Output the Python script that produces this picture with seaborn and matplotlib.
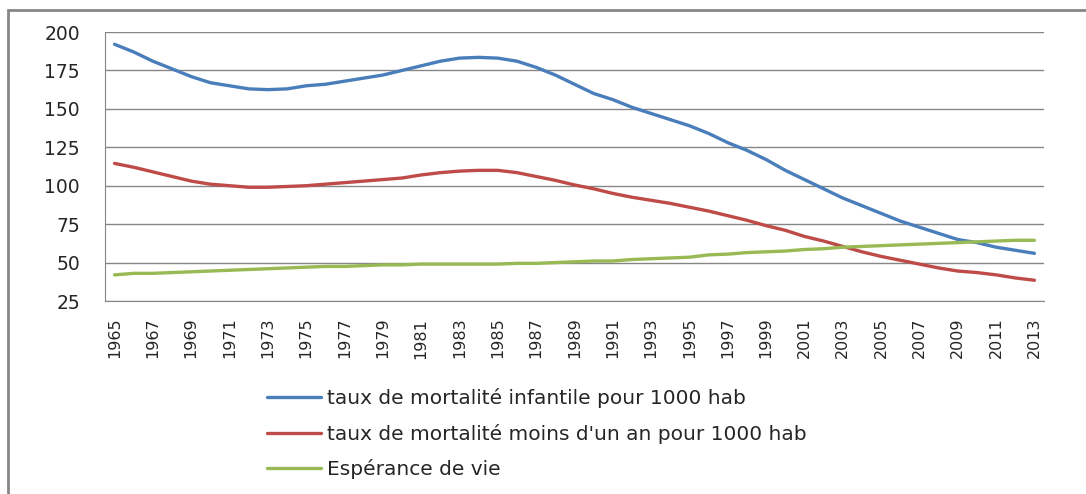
import pandas as pd
import matplotlib
matplotlib.use("Agg")
import matplotlib.pyplot as plt
import seaborn as sns
from matplotlib.patches import Rectangle

sns.set_style("white")
plt.rcParams['font.family'] = ['DejaVu Sans']

# data
years = list(range(1965, 2014))
infantile = [192, 187, 181, 176, 171, 167, 165, 163, 162.5, 163,
             165, 166, 168, 170, 172, 175, 178, 181, 183, 183.5,
             183, 181, 177, 172, 166, 160, 156, 151, 147, 143,
             139, 134, 128, 123, 117, 110, 104, 98, 92, 87,
             82, 77, 73, 69, 65, 63, 60, 58, 56]
moins_un_an = [114.5, 112, 109, 106, 103, 101, 100, 99, 99, 99.5,
               100, 101, 102, 103, 104, 105, 107, 108.5, 109.5, 110,
               110, 108.5, 106, 103.5, 100.5, 98, 95, 92.5, 90.5, 88.5,
               86, 83.5, 80.5, 77.5, 74, 71, 67, 64, 60.5, 57,
               54, 51.5, 49, 46.5, 44.5, 43.5, 42, 40, 38.5]
esperance = [42, 43, 43, 43.5, 44, 44.5, 45, 45.5, 46, 46.5,
             47, 47.5, 47.5, 48, 48.5, 48.5, 49, 49, 49, 49,
             49, 49.5, 49.5, 50, 50.5, 51, 51, 52, 52.5, 53,
             53.5, 55, 55.5, 56.5, 57, 57.5, 58.5, 59, 60, 60.5,
             61, 61.5, 62, 62.5, 63, 63.5, 64, 64.5, 64.5]
labels = ["taux de mortalité infantile pour 1000 hab",
          "taux de mortalité moins d'un an pour 1000 hab",
          "Espérance de vie"]
colors = ["#4A7EBB", "#BE4B48", "#98B954"]

df = pd.DataFrame({"year": years * 3,
                   "value": infantile + moins_un_an + esperance,
                   "serie": [labels[0]] * len(years) + [labels[1]] * len(years) + [labels[2]] * len(years)})

fig = plt.figure(figsize=(10.86, 4.94), dpi=100)
ax = fig.add_axes([105 / 1086, 1 - 301 / 494, (1044 - 105) / 1086, (301 - 32) / 494])

sns.lineplot(data=df, x="year", y="value", hue="serie", hue_order=labels,
             palette=colors, linewidth=2.4, ax=ax, legend=True)

# axes styling, Excel-like
ax.set_xlim(1964.5, 2013.5)
ax.set_ylim(25, 200)
ax.set_yticks(range(25, 201, 25))
ax.set_xticks(years[::2])
ax.set_xticklabels([str(y) for y in years[::2]], rotation=90, fontsize=11.5)
ax.set_xticks([y - 0.5 for y in years] + [2013.5], minor=True)
ax.tick_params(axis='x', which='major', length=0, pad=12)
ax.tick_params(axis='x', which='minor', length=6, color='#868686', width=1)
ax.tick_params(axis='y', length=8, color='#868686', labelsize=13.5, pad=10)
ax.grid(axis='y', color='#868686', linewidth=1)
ax.set_axisbelow(True)
for s in ['top', 'right']:
    ax.spines[s].set_visible(False)
for s in ['left', 'bottom']:
    ax.spines[s].set_color('#868686')
ax.set_xlabel("")
ax.set_ylabel("")

handles, labs = ax.get_legend_handles_labels()
ax.legend(handles, labs, loc='upper left', bbox_to_anchor=(267 / 1086, 1 - 388 / 494),
          bbox_transform=fig.transFigure, frameon=False, borderaxespad=0, borderpad=0,
          handlelength=2.7, handletextpad=0.3, labelspacing=0.78,
          prop={'family': ['DejaVu Sans'], 'size': 14.5})

# outer chart border
fig.patches.append(Rectangle((8 / 1086, -0.1), 1.1, 1.1 - 10 / 494,
                             transform=fig.transFigure, fill=False,
                             edgecolor='#868686', linewidth=2))

fig.savefig("out.png", dpi=100)
